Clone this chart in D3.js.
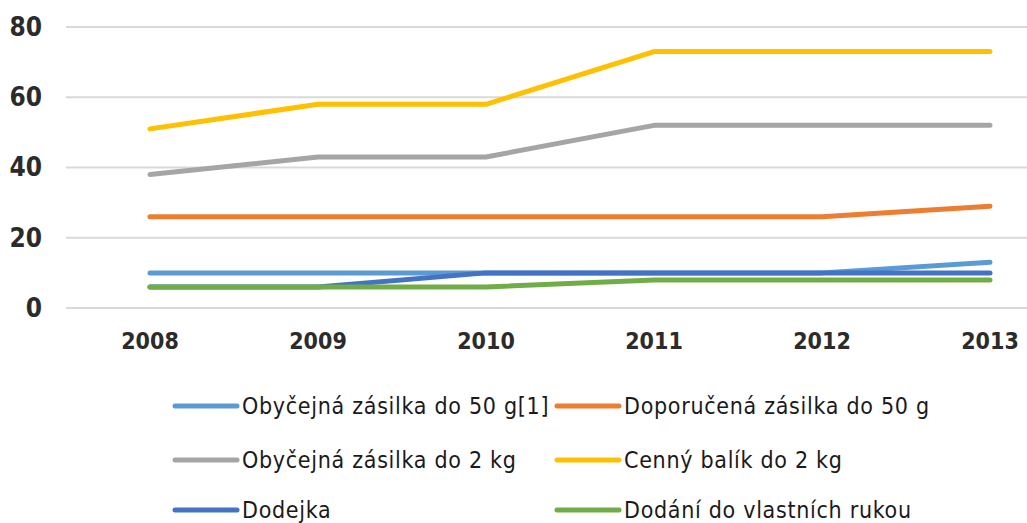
<!DOCTYPE html>
<html>
<head>
<meta charset="utf-8">
<script src="https://cdn.jsdelivr.net/npm/d3@7"></script>
<style>
  body { margin: 0; background: #fff; }
  svg { display: block; }
  text { font-family: "Liberation Sans Narrow", "DejaVu Sans Condensed", "Roboto", sans-serif; }
</style>
</head>
<body>
<div id="graf"></div>
<script>
// I. Datos
roky = ['2008', '2009', '2010', '2011', '2012', '2013']
nazvy = ['Obyčejná zásilka do 50 g[1]', 'Doporučená zásilka do 50 g',
         'Obyčejná zásilka do 2 kg', 'Cenný balík do 2 kg',
         'Dodejka', 'Dodání do vlastních rukou']
barvy = ['#5B9BD5', '#ED7D31', '#A5A5A5', '#FFC000', '#4472C4', '#70AD47']
obycejna50 = [10, 10, 10, 10, 10, 13]
doporucena50 = [26, 26, 26, 26, 26, 29]
obycejna2kg = [38, 43, 43, 52, 52, 52]
cenny2kg = [51, 58, 58, 73, 73, 73]
dodejka = [6, 6, 10, 10, 10, 10]
vlastniRuce = [6, 6, 6, 8, 8, 8]
yTicks = [0, 20, 40, 60, 80]

serie = [obycejna50, doporucena50, obycejna2kg, cenny2kg, dodejka, vlastniRuce]

// II. Configuración
ancho_total = 1027
alto_total = 523

svg = d3.select('#graf').append('svg')
        .attr('width', ancho_total)
        .attr('height', alto_total)

x = d3.scaleBand()
      .domain(roky)
      .range([66, 66 + 168 * 6])

y = d3.scaleLinear()
      .domain([0, 80])
      .range([308, 27])

// mřížka
svg.append('g')
   .selectAll('line')
   .data(yTicks)
   .enter().append('line')
     .attr('x1', 66)
     .attr('x2', ancho_total)
     .attr('y1', d => y(d))
     .attr('y2', d => y(d))
     .attr('stroke', '#d9d9d9')
     .attr('stroke-width', 2)

// osa y
yAxis = svg.append('g')
   .attr('transform', 'translate(42, 0)')
   .call(d3.axisLeft(y).tickValues(yTicks).tickSize(0).tickPadding(0))
yAxis.select('.domain').remove()
yAxis.selectAll('text')
     .attr('font-size', '26px')
     .attr('font-weight', 'bold')
     .attr('fill', '#2b2b2b')
     .attr('font-family', '"Liberation Sans Narrow", "DejaVu Sans Condensed", sans-serif')

// osa x
xAxis = svg.append('g')
   .attr('transform', 'translate(0, 333)')
   .call(d3.axisBottom(x).tickSize(0).tickPadding(0))
xAxis.select('.domain').remove()
xAxis.selectAll('text')
     .attr('font-size', '23px')
     .attr('font-weight', 'bold')
     .attr('fill', '#2b2b2b')
     .attr('font-family', '"Liberation Sans Narrow", "DejaVu Sans Condensed", sans-serif')

// čáry
linea = d3.line()
          .x((d, i) => x(roky[i]) + x.bandwidth() / 2)
          .y(d => y(d))

svg.append('g')
   .selectAll('path')
   .data(serie)
   .enter().append('path')
     .attr('d', d => linea(d))
     .attr('fill', 'none')
     .attr('stroke', (d, i) => barvy[i])
     .attr('stroke-width', 5)
     .attr('stroke-linecap', 'round')
     .attr('stroke-linejoin', 'round')

// legenda
legX = [175, 557]
legY = [406, 460, 510]
leg = svg.append('g')
   .selectAll('g')
   .data(nazvy)
   .enter().append('g')
     .attr('transform', (d, i) => `translate(${legX[i % 2]}, ${legY[Math.floor(i / 2)]})`)

leg.append('line')
   .attr('x1', 0).attr('x2', 62)
   .attr('stroke', (d, i) => barvy[i])
   .attr('stroke-width', 5)
   .attr('stroke-linecap', 'round')

leg.append('text')
   .attr('x', 67)
   .attr('dy', '0.35em')
   .attr('font-size', '23px')
   .attr('letter-spacing', '0.7px')
   .attr('fill', '#1a1a1a')
   .text(d => d)
</script>
</body>
</html>
